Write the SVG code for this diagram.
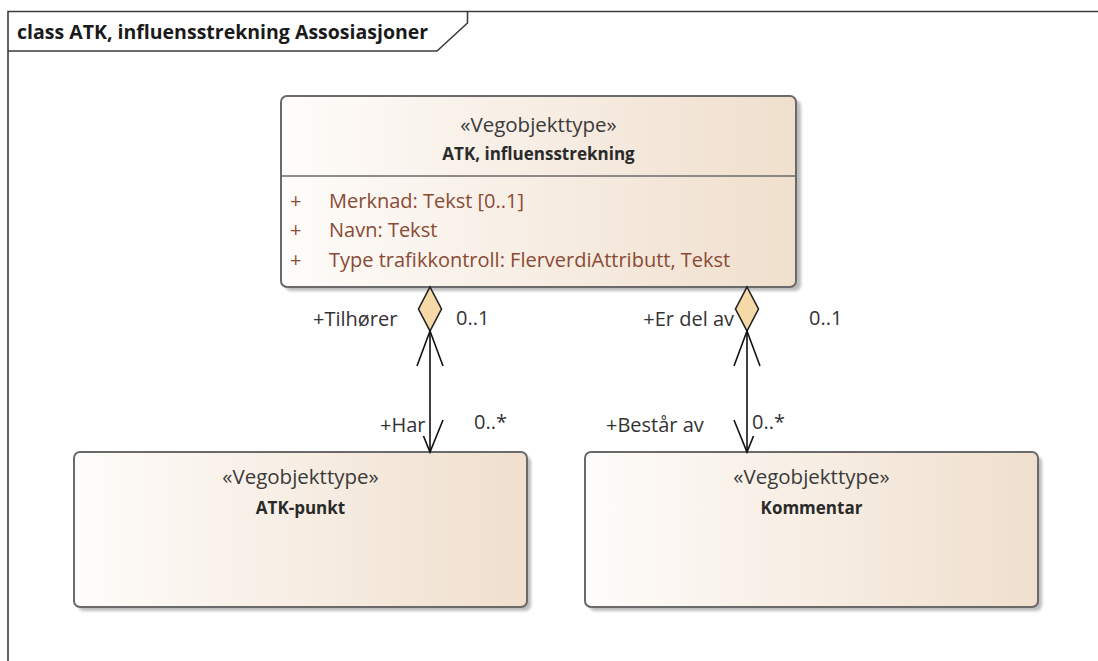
<svg xmlns="http://www.w3.org/2000/svg" width="1098" height="661" viewBox="0 0 1098 661">
  <style>
    .frame { fill: none; stroke: #3c3c3c; stroke-width: 1.6; }
    .title { font-family: "Open Sans", "Noto Sans", "DejaVu Sans", sans-serif; font-size: 19.5px; font-weight: bold; fill: #1a1a1a; }
    .box { fill: url(#grad); stroke: #6a6a6a; stroke-width: 2; }
    .shadow { fill: #bdbdbd; filter: url(#blur); }
    .stereo { font-family: "Open Sans", "Noto Sans", sans-serif; font-size: 20.5px; fill: #3a3a3a; text-anchor: middle; }
    .name { font-family: "Open Sans", "Noto Sans", sans-serif; font-size: 17px; font-weight: bold; fill: #2a2a2a; text-anchor: middle; }
    .attr { font-family: "Open Sans", "Noto Sans", sans-serif; font-size: 20px; fill: #8a4a34; }
    .lbl { font-family: "Open Sans", "Noto Sans", sans-serif; font-size: 20px; fill: #333333; }
    .conn { stroke: #111111; stroke-width: 1.6; fill: none; }
    .diamond { fill: #f6d9a8; stroke: #222222; stroke-width: 1.6; }
    .lblbg { fill: #ffffff; }
  </style>
  <defs>
    <linearGradient id="grad" x1="0" y1="0" x2="1" y2="0">
      <stop offset="0" stop-color="#fefcfa"/>
      <stop offset="1" stop-color="#f0dfcd"/>
    </linearGradient>
    <filter id="blur" x="-5%" y="-5%" width="110%" height="110%">
      <feGaussianBlur stdDeviation="1.5"/>
    </filter>
  </defs>

  <rect width="1098" height="661" fill="#ffffff"/>

  <g id="frame">
    <path class="frame" d="M8,661 V11.5 H1098"/>
    <path class="frame" d="M8,51 H437 L467.5,23 V11.5"/>
    <text class="title" x="17" y="39">class ATK, influensstrekning Assosiasjoner</text>
  </g>

  <g id="node-influensstrekning">
    <rect class="shadow" x="285" y="100" width="516" height="191" rx="6"/>
    <rect class="box" x="281" y="96" width="515" height="191" rx="6"/>
    <line x1="281" y1="176" x2="796" y2="176" stroke="#6a6a6a" stroke-width="1.6"/>
    <text class="stereo" x="538.5" y="132">«Vegobjekttype»</text>
    <text class="name" x="538.5" y="160">ATK, influensstrekning</text>
    <text class="attr" x="290" y="208">+</text>
    <text class="attr" x="329" y="208">Merknad: Tekst [0..1]</text>
    <text class="attr" x="290" y="237">+</text>
    <text class="attr" x="329" y="237">Navn: Tekst</text>
    <text class="attr" x="290" y="267">+</text>
    <text class="attr" x="329" y="267">Type trafikkontroll: FlerverdiAttributt, Tekst</text>
  </g>

  <g id="node-atk-punkt">
    <rect class="shadow" x="78" y="456" width="453" height="155" rx="6"/>
    <rect class="box" x="74" y="452" width="453" height="155" rx="6"/>
    <text class="stereo" x="300.5" y="484">«Vegobjekttype»</text>
    <text class="name" x="300.5" y="514">ATK-punkt</text>
  </g>

  <g id="node-kommentar">
    <rect class="shadow" x="589" y="456" width="453" height="155" rx="6"/>
    <rect class="box" x="585" y="452" width="453" height="155" rx="6"/>
    <text class="stereo" x="811.5" y="484">«Vegobjekttype»</text>
    <text class="name" x="811.5" y="514">Kommentar</text>
  </g>

  <g id="connectors">
    <!-- left association -->
    <line class="conn" x1="430" y1="331" x2="430" y2="452"/>
    <polygon class="diamond" points="430,287 441.5,309 430,331 418.5,309"/>
    <polyline class="conn" points="417,366 430,331 443,366"/>
    <polyline class="conn" points="417,420 430,452 443,420"/>
    <!-- right association -->
    <line class="conn" x1="747" y1="331" x2="747" y2="452"/>
    <polygon class="diamond" points="747,287 758.5,309 747,331 735.5,309"/>
    <polyline class="conn" points="734,366 747,331 760,366"/>
    <polyline class="conn" points="734,420 747,452 760,420"/>

    <text class="lbl" x="313" y="326">+Tilhører</text>
    <text class="lbl" x="456" y="325">0..1</text>
    <text class="lbl" x="734" y="326" text-anchor="end">+Er del av</text>
    <text class="lbl" x="809" y="325">0..1</text>

    <rect class="lblbg" x="378" y="414" width="50" height="22"/>
    <text class="lbl" x="380" y="432">+Har</text>
    <text class="lbl" x="474" y="429">0..*</text>
    <text class="lbl" x="606" y="432">+Består av</text>
    <rect class="lblbg" x="750" y="414" width="42" height="22"/>
    <text class="lbl" x="752" y="429">0..*</text>
  </g>
</svg>
